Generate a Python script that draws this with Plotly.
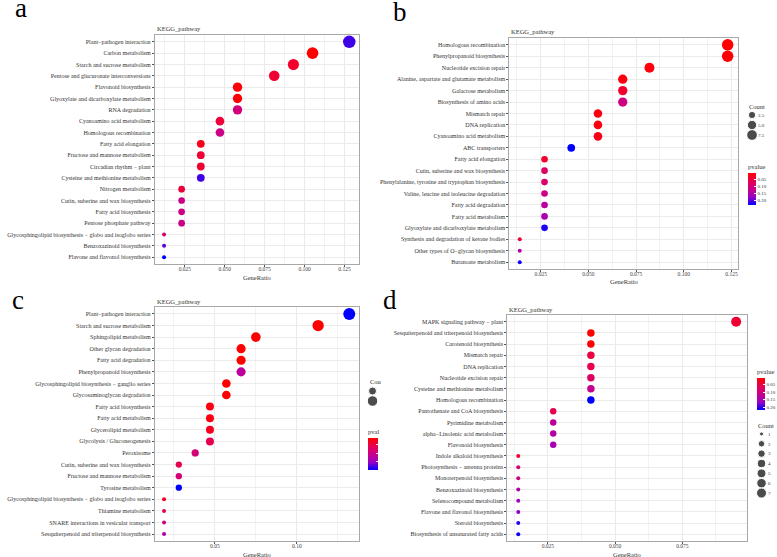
import plotly.graph_objects as go

W, H = 777, 557
FONT = 'Liberation Serif'

# ---------------- panel a ----------------
a_pathway = ['Plant−pathogen interaction', 'Carbon metabolism', 'Starch and sucrose metabolism',
             'Pentose and glucuronate interconversions', 'Flavonoid biosynthesis',
             'Glyoxylate and dicarboxylate metabolism', 'RNA degradation', 'Cyanoamino acid metabolism',
             'Homologous recombination', 'Fatty acid elongation', 'Fructose and mannose metabolism',
             'Circadian rhythm − plant', 'Cysteine and methionine metabolism', 'Nitrogen metabolism',
             'Cutin, suberine and wax biosynthesis', 'Fatty acid biosynthesis', 'Pentose phosphate pathway',
             'Glycosphingolipid biosynthesis − globo and isoglobo series', 'Benzoxazinoid biosynthesis',
             'Flavone and flavonol biosynthesis']
a_ratio = [0.128, 0.105, 0.093, 0.081, 0.058, 0.058, 0.058, 0.047, 0.047, 0.035,
           0.035, 0.035, 0.035, 0.023, 0.023, 0.023, 0.023, 0.012, 0.012, 0.012]
a_count = [11, 9, 8, 7, 5, 5, 5, 4, 4, 3, 3, 3, 3, 2, 2, 2, 2, 1, 1, 1]
a_pvalue = [0.18, 0.003, 0.03, 0.035, 0.008, 0.005, 0.09, 0.04, 0.1, 0.02,
            0.035, 0.035, 0.18, 0.04, 0.1, 0.1, 0.1, 0.08, 0.17, 0.2]

# ---------------- panel b ----------------
b_pathway = ['Homologous recombination', 'Phenylpropanoid biosynthesis', 'Nucleotide excision repair',
             'Alanine, aspartate and glutamate metabolism', 'Galactose metabolism',
             'Biosynthesis of amino acids', 'Mismatch repair', 'DNA replication',
             'Cyanoamino acid metabolism', 'ABC transporters', 'Fatty acid elongation',
             'Cutin, suberine and wax biosynthesis', 'Phenylalanine, tyrosine and tryptophan biosynthesis',
             'Valine, leucine and isoleucine degradation', 'Fatty acid degradation', 'Fatty acid metabolism',
             'Glyoxylate and dicarboxylate metabolism', 'Synthesis and degradation of ketone bodies',
             'Other types of O−glycan biosynthesis', 'Butanoate metabolism']
b_ratio = [0.123, 0.123, 0.082, 0.068, 0.068, 0.068, 0.055, 0.055, 0.055, 0.041,
           0.027, 0.027, 0.027, 0.027, 0.027, 0.027, 0.027, 0.014, 0.014, 0.014]
b_count = [9, 9, 6, 5, 5, 5, 4, 4, 4, 3, 2, 2, 2, 2, 2, 2, 2, 1, 1, 1]
b_pvalue = [0.002, 0.004, 0.01, 0.012, 0.035, 0.11, 0.013, 0.013, 0.02, 0.235,
            0.035, 0.08, 0.09, 0.115, 0.14, 0.155, 0.225, 0.045, 0.15, 0.225]
b_legend = [2.5, 5.0, 7.5]

# ---------------- panel c ----------------
c_pathway = ['Plant−pathogen interaction', 'Starch and sucrose metabolism', 'Sphingolipid metabolism',
             'Other glycan degradation', 'Fatty acid degradation', 'Phenylpropanoid biosynthesis',
             'Glycosphingolipid biosynthesis − ganglio series', 'Glycosaminoglycan degradation',
             'Fatty acid biosynthesis', 'Fatty acid metabolism', 'Glycerolipid metabolism',
             'Glycolysis / Gluconeogenesis', 'Peroxisome', 'Cutin, suberine and wax biosynthesis',
             'Fructose and mannose metabolism', 'Tyrosine metabolism',
             'Glycosphingolipid biosynthesis − globo and isoglobo series', 'Thiamine metabolism',
             'SNARE interactions in vesicular transport', 'Sesquiterpenoid and triterpenoid biosynthesis']
c_ratio = [0.132, 0.113, 0.075, 0.066, 0.066, 0.066, 0.057, 0.057, 0.047, 0.047,
           0.047, 0.047, 0.038, 0.028, 0.028, 0.028, 0.019, 0.019, 0.019, 0.019]
c_count = [14, 12, 8, 7, 7, 7, 6, 6, 5, 5, 5, 5, 4, 3, 3, 3, 2, 2, 2, 2]
c_pvalue = [0.2, 0.01, 0.01, 0.01, 0.01, 0.12, 0.01, 0.01, 0.02, 0.02,
            0.03, 0.06, 0.09, 0.06, 0.09, 0.2, 0.03, 0.06, 0.1, 0.13]
c_legend = [5, 10]

# ---------------- panel d ----------------
d_pathway = ['MAPK signaling pathway − plant', 'Sesquiterpenoid and triterpenoid biosynthesis',
             'Carotenoid biosynthesis', 'Mismatch repair', 'DNA replication', 'Nucleotide excision repair',
             'Cysteine and methionine metabolism', 'Homologous recombination',
             'Pantothenate and CoA biosynthesis', 'Pyrimidine metabolism', 'alpha−Linolenic acid metabolism',
             'Flavonoid biosynthesis', 'Indole alkaloid biosynthesis', 'Photosynthesis − antenna proteins',
             'Monoterpenoid biosynthesis', 'Benzoxazinoid biosynthesis', 'Selenocompound metabolism',
             'Flavone and flavonol biosynthesis', 'Steroid biosynthesis',
             'Biosynthesis of unsaturated fatty acids']
d_ratio = [0.095, 0.041, 0.041, 0.041, 0.041, 0.041, 0.041, 0.041, 0.027, 0.027,
           0.027, 0.027, 0.014, 0.014, 0.014, 0.014, 0.014, 0.014, 0.014, 0.014]
d_count = [7, 3, 3, 3, 3, 3, 3, 3, 2, 2, 2, 2, 1, 1, 1, 1, 1, 1, 1, 1]
d_pvalue = [0.04, 0.0065, 0.01, 0.05, 0.06, 0.08, 0.12, 0.219, 0.06, 0.13,
            0.14, 0.15, 0.04, 0.09, 0.1, 0.14, 0.16, 0.17, 0.205, 0.215]
d_legend = [1, 2, 3, 4, 5, 6, 7]

# blue -> red (ggplot low="red", high="blue" in Lab, drawn on -pvalue so red sits on top)
SCALE = [[0, '#0000FF'], [0.25, '#9A00C3'], [0.5, '#CA0088'], [0.75, '#E8004F'], [1, '#FF0000']]


def fx(p):
    return p / W


def fy(p):
    return 1 - p / H


def dot(c, cmin, cmax, dmin, dmax):
    return dmin + (dmax - dmin) * ((c - cmin) / (cmax - cmin)) ** 0.5


# name, pathways, ratio, count, pvalue, box (x0, x1, y0, y1), dtick, format, max dot
panels = [
    ('a', a_pathway, a_ratio, a_count, a_pvalue, (155, 359, 35, 264), 0.025, '.3f', 12.5),
    ('b', b_pathway, b_ratio, b_count, b_pvalue, (510, 739, 38, 269), 0.025, '.3f', 11.5),
    ('c', c_pathway, c_ratio, c_count, c_pvalue, (155, 359, 307, 541), 0.05, '.2f', 12),
    ('d', d_pathway, d_ratio, d_count, d_pvalue, (508, 748, 315, 541), 0.025, '.3f', 10),
]

fig = go.Figure()
layout = dict(width=W, height=H, margin=dict(l=0, r=0, t=0, b=0),
              plot_bgcolor='white', paper_bgcolor='white', showlegend=False,
              font=dict(family=FONT, color='#333333'), annotations=[])

for i, (name, paths, ratio, count, pv, box, dtick, fmt, dmax) in enumerate(panels, start=1):
    sfx = '' if i == 1 else str(i)
    x0, x1, y0, y1 = box
    cmin, cmax = min(count), max(count)
    sizes = [dot(c, cmin, cmax, 4, dmax) for c in count]
    fig.add_trace(go.Scatter(
        x=ratio, y=paths, mode='markers', xaxis='x' + sfx, yaxis='y' + sfx,
        marker=dict(size=sizes, color=[-p for p in pv], coloraxis='coloraxis' + sfx,
                    line=dict(width=0), opacity=1),
        hovertemplate='%{y}<br>GeneRatio %{x}<extra></extra>'))
    span = max(ratio) - min(ratio)
    layout['xaxis' + sfx] = dict(
        domain=[fx(x0), fx(x1)], anchor='y' + sfx,
        range=[min(ratio) - 0.05 * span, max(ratio) + 0.05 * span],
        tick0=0, dtick=dtick, tickformat=fmt,
        showgrid=True, gridcolor='#ebebeb', gridwidth=0.8,
        minor=dict(tick0=0, dtick=dtick / 2, showgrid=True, gridcolor='#f3f3f3', gridwidth=0.5),
        showline=True, mirror=True, linecolor='#a8a8a8', linewidth=1,
        ticks='outside', ticklen=2, tickwidth=0.6, tickcolor='#555555',
        ticklabelstandoff=-3,
        tickfont=dict(size=5.5, color='#444444'), zeroline=False)
    layout['yaxis' + sfx] = dict(
        domain=[fy(y1), fy(y0)], anchor='x' + sfx, type='category',
        categoryorder='array', categoryarray=paths[::-1], range=[-0.6, len(paths) - 0.4],
        showgrid=True, gridcolor='#ebebeb', gridwidth=0.8,
        showline=True, mirror=True, linecolor='#a8a8a8', linewidth=1,
        ticks='outside', ticklen=2, tickwidth=0.6, tickcolor='#555555',
        tickfont=dict(size=6, color='#333333'), zeroline=False)
    layout['coloraxis' + sfx] = dict(colorscale=SCALE, cmin=-max(pv), cmax=-min(pv), showscale=False)
    layout['annotations'] += [
        dict(text='KEGG_pathway', x=fx(x0), y=fy(y0 - 6), xref='paper', yref='paper',
             xanchor='left', yanchor='middle', showarrow=False, font=dict(size=6.5)),
        dict(text='GeneRatio', x=fx((x0 + x1) / 2), y=fy(y1 + 13), xref='paper', yref='paper',
             xanchor='center', yanchor='middle', showarrow=False, font=dict(size=6.5)),
    ]

# panel letters
for txt, cx, cy in [('a', 21, 8), ('b', 401, 12), ('c', 18, 300), ('d', 391, 300)]:
    layout['annotations'].append(dict(text=txt, x=fx(cx), y=fy(cy), xref='paper', yref='paper',
                                      xanchor='center', yanchor='middle', showarrow=False,
                                      font=dict(size=27, color='black')))

cb_ticks = [-0.05, -0.10, -0.15, -0.20]
cb_text = ['0.05', '0.10', '0.15', '0.20']


def colorbar(x, ybottom, title, labels=True, thick=8):
    return dict(x=fx(x), xanchor='left', xpad=0, y=fy(ybottom), yanchor='bottom', ypad=0,
                len=44, lenmode='pixels', thickness=thick, thicknessmode='pixels',
                outlinewidth=0, title=dict(text=title, side='top', font=dict(size=6.5)),
                tickvals=cb_ticks, ticktext=cb_text, showticklabels=labels,
                ticks='inside', ticklen=2, tickcolor='white', tickfont=dict(size=5))


layout['coloraxis2'].update(showscale=True, colorbar=colorbar(748, 205, 'pvalue'))
layout['coloraxis3'].update(showscale=True, colorbar=colorbar(368, 470, 'pval', labels=False, thick=10))
layout['coloraxis4'].update(showscale=True, colorbar=colorbar(757, 410, 'pvalue'))

# count legends (b, c, d)
legends = [
    (5, b_legend, [f'{v:.1f}' for v in b_legend], b_count, 11.5, (748, 758, 110, 140), (748, 106), 'Count', True),
    (6, c_legend, [str(v) for v in c_legend], c_count, 12, (368, 378, 386, 406), (368, 381), 'Cou', False),
    (7, d_legend, [str(v) for v in d_legend], d_count, 10, (757, 768, 429, 498), (757, 425), 'Count', True),
]
for k, vals, labs, count, dmax, box, tpos, title, show in legends:
    x0, x1, y0, y1 = box
    fig.add_trace(go.Scatter(
        x=[0.5] * len(vals), y=labs, mode='markers', xaxis=f'x{k}', yaxis=f'y{k}',
        marker=dict(size=[dot(v, min(count), max(count), 4, dmax) for v in vals], color='black'),
        hoverinfo='skip'))
    layout[f'xaxis{k}'] = dict(domain=[fx(x0), fx(x1)], anchor=f'y{k}', range=[0, 1],
                               showgrid=False, zeroline=False, showline=False,
                               showticklabels=False, fixedrange=True)
    layout[f'yaxis{k}'] = dict(domain=[fy(y1), fy(y0)], anchor=f'x{k}', type='category',
                               categoryorder='array', categoryarray=labs,
                               range=[len(labs) - 0.5, -0.5], side='right',
                               showgrid=False, zeroline=False, showline=False, ticks='',
                               showticklabels=show, tickfont=dict(size=5, color='#333333'),
                               fixedrange=True)
    layout['annotations'].append(dict(text=title, x=fx(tpos[0]), y=fy(tpos[1]), xref='paper', yref='paper',
                                      xanchor='left', yanchor='middle', showarrow=False,
                                      font=dict(size=6.5)))

fig.update_layout(**layout)
# drop the page's default body margin so the figure sits at the window's corner
fig.write_html('out.html', config={'displayModeBar': False},
               post_script="document.body.style.margin = '0px';")
